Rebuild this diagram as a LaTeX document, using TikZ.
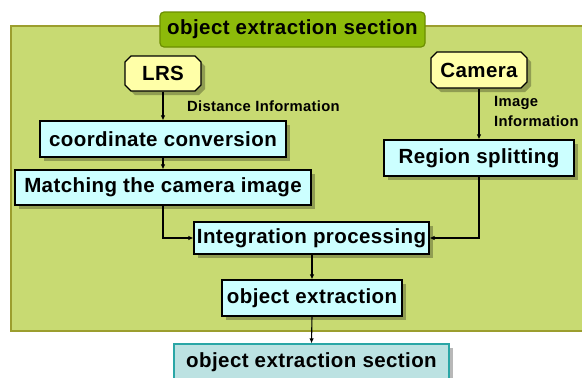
\documentclass[tikz,border=0pt]{standalone}
\usepackage{fontspec}
\setmainfont{Liberation Sans}
\newfontfamily\boxfont[LetterSpace=2]{Liberation Sans}
\usetikzlibrary{arrows.meta,shapes.misc}
\definecolor{bggreen}{HTML}{C8DA72}
\definecolor{bgborder}{HTML}{9C9E2E}
\definecolor{tabgreen}{HTML}{8DBA0A}
\definecolor{tabborder}{HTML}{6C8E00}
\definecolor{boxcyan}{HTML}{CCFFFF}
\definecolor{srcyellow}{HTML}{FFFFA8}
\definecolor{outfill}{HTML}{BCE2E2}
\definecolor{outborder}{HTML}{2AA6A6}
\tikzset{
  shad/.style={preaction={fill=black,opacity=0.28,transform canvas={shift={(4pt,-4pt)}}}},
  bxfont/.style={font=\boxfont\fontsize{20.5}{24}\selectfont\bfseries},
  procbox/.style={draw=black,line width=1.1pt,fill=boxcyan,shad,inner sep=0pt,bxfont},
  srcbox/.style={draw=black,line width=1.1pt,fill=srcyellow,shad,inner sep=0pt,
    chamfered rectangle,chamfered rectangle xsep=3pt,chamfered rectangle ysep=3pt,bxfont},
  lbl/.style={font=\boxfont\fontsize{14.8}{18}\selectfont\bfseries,inner sep=0pt,align=left},
  conn/.style={line width=1.1pt,-{Latex[length=5pt,width=4.5pt]}}
}
\begin{document}
\begin{tikzpicture}[x=1pt,y=-1pt]
\useasboundingbox (0,0) rectangle (582,378);
\begin{scope}
\clip (0,0) rectangle (582,378);
% background section
\fill[bggreen,draw=bgborder,line width=1.2pt] (11,26) rectangle (590,331);
\node[draw=tabborder,line width=1.2pt,fill=tabgreen,rounded corners=4pt,
  minimum width=265pt,minimum height=35pt,inner sep=0pt,bxfont] (tab) at (292.5,29.5) {object extraction section};
% sources
\node[srcbox,minimum width=76pt,minimum height=35pt] (lrs) at (163,73.5) {LRS};
\node[srcbox,minimum width=96pt,minimum height=36pt] (cam) at (479,70) {Camera};
% processes
\node[procbox,minimum width=246pt,minimum height=36pt] (coord) at (163,139) {coordinate conversion};
\node[procbox,minimum width=296pt,minimum height=35pt] (match) at (163,187.5) {Matching the camera image};
\node[procbox,minimum width=190pt,minimum height=36pt] (region) at (479,158) {Region splitting};
\node[procbox,minimum width=235pt,minimum height=32pt] (integ) at (311.5,238) {Integration processing};
\node[procbox,minimum width=180pt,minimum height=36pt] (objext) at (312,298) {object extraction};
\node[draw=outborder,line width=1.2pt,fill=outfill,shad,inner sep=0pt,
  minimum width=275pt,minimum height=36pt,bxfont] (out) at (311.5,362) {object extraction section};
% labels
\node[lbl,anchor=west] (dlbl) at (187,106) {Distance Information};
\node[lbl,anchor=north west,font=\boxfont\fontsize{14.8}{20}\selectfont\bfseries] (ilbl) at (494,96) {Image\\Information};
% connectors
\draw[conn] (lrs.south) -- (coord.north);
\draw[conn] (coord.south) -- (match.north);
\draw[conn] (cam.south) -- (region.north);
\draw[conn] (match.south) |- (integ.west);
\draw[conn] (region.south) |- (integ.east);
\draw[conn] (integ.south -| objext.north) -- (objext.north);
\draw[conn] (objext.south) -- (out.north);
\end{scope}
\end{tikzpicture}
\end{document}
